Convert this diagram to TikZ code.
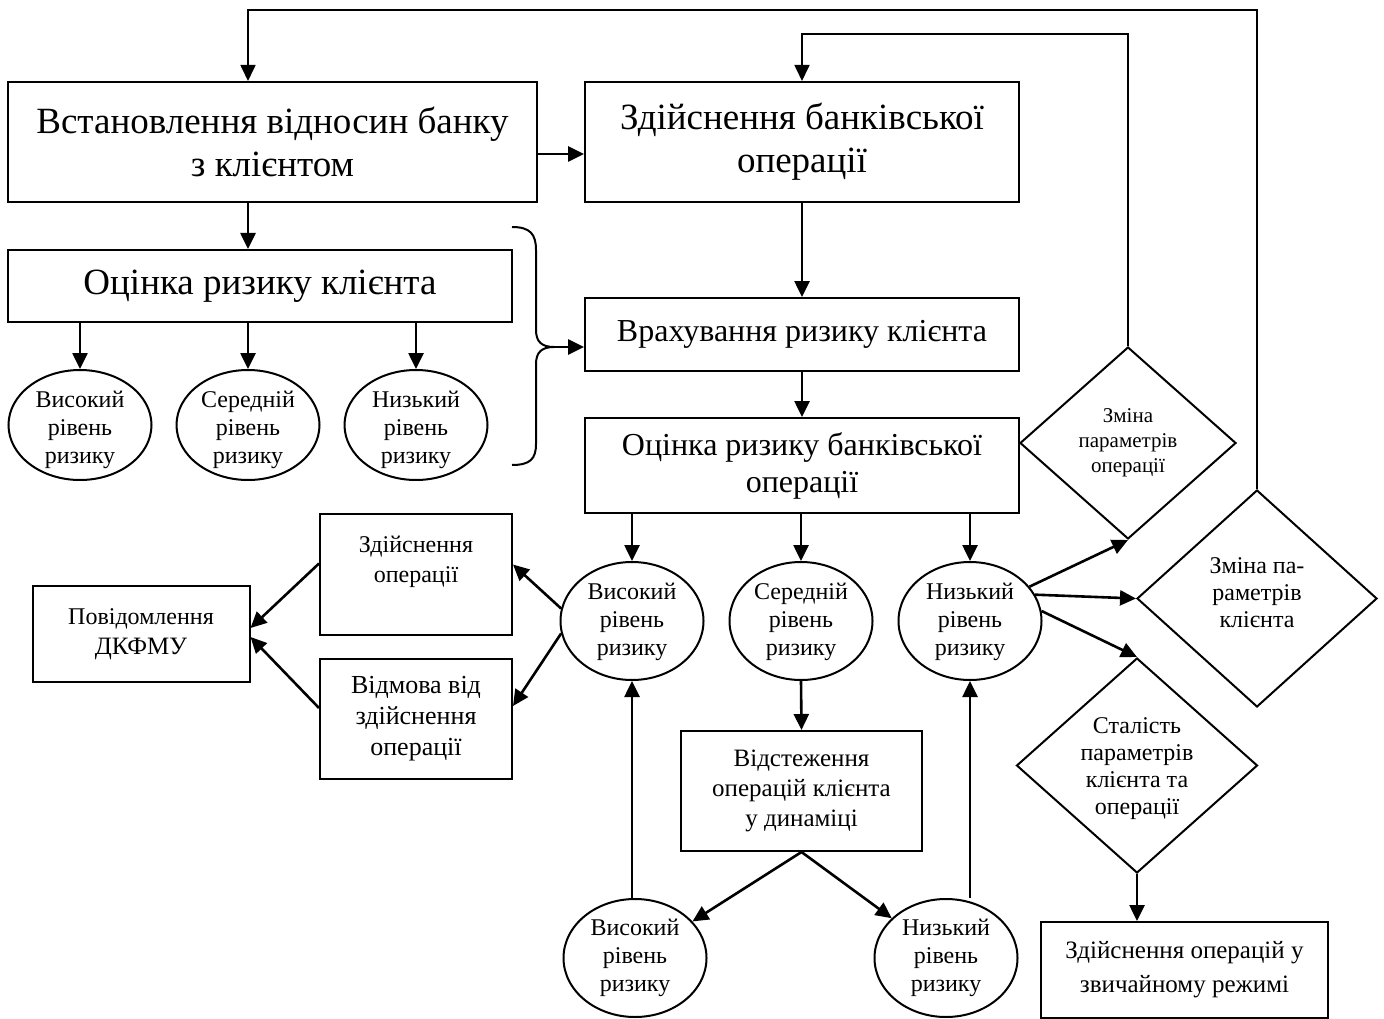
\documentclass[tikz,border=0pt]{standalone}
\usepackage{fontspec}
\setmainfont{Liberation Serif}
\usetikzlibrary{shapes.geometric,arrows.meta,calc}

\begin{document}
\begin{tikzpicture}[x=1pt,y=-1pt,
  box/.style={draw,line width=2pt,rectangle,inner sep=0pt,align=center},
  oval/.style={draw,line width=2pt,ellipse,inner sep=0pt},
  rhomb/.style={draw,line width=2pt,diamond,inner sep=0pt},
  inner/.style={align=center,inner sep=0pt},
  arr/.style={line width=2.6pt,-{Triangle[length=16pt,width=15pt]}},
  backarr/.style={line width=1.7pt,-{Triangle[length=16pt,width=15pt]}},
  txtbig/.style={font=\fontsize{37}{43}\selectfont},
  txtmid/.style={font=\fontsize{32}{37}\selectfont},
  txtsmall/.style={font=\fontsize{24}{30}\selectfont},
  txtoval/.style={font=\fontsize{24}{28}\selectfont},
  txtrhomb/.style={font=\fontsize{24}{27}\selectfont},
]
\useasboundingbox (0,0) rectangle (1384,1019);

% upper blocks
\node[box,txtbig,minimum width=529pt,minimum height=120pt] (A) at (272.5,142)
  {Встановлення відносин банку\\з клієнтом};
\node[box,txtbig,minimum width=434pt,minimum height=120pt] (B) at (802,142)
  {Здійснення банківської\\операції};
\node[box,txtbig,minimum width=504pt,minimum height=72pt] (C) at (260,286)
  {Оцінка ризику клієнта};
\node[box,txtmid,minimum width=434pt,minimum height=73pt] (D) at (802,334.5)
  {Врахування ризику клієнта};
\node[box,txtmid,minimum width=434pt,minimum height=95pt] (E) at (802,465.5)
  {Оцінка ризику банківської\\операції};

% client risk levels
\foreach \n/\x/\t in {c1/80/Високий, c2/248/Середній, c3/416/Низький}
  \node[oval,minimum width=143pt,minimum height=110pt,
    label={[inner,txtoval,yshift=-5pt]center:{\t\\рівень\\ризику}}] (\n) at (\x,425) {};

% operation risk levels
\foreach \n/\x/\t in {mH/632/Високий, mM/801/Середній, mL/970/Низький}
  \node[oval,minimum width=143pt,minimum height=118pt,
    label={[inner,txtoval,yshift=-1pt]center:{\t\\рівень\\ризику}}] (\n) at (\x,621) {};

% actions for high risk
\node[box,txtsmall,minimum width=192pt,minimum height=121pt] (zd) at (416,574.5)
  {Здійснення\\операції\\\mbox{}};
\node[box,font=\fontsize{26}{31}\selectfont,minimum width=192pt,minimum height=120pt] (vid) at (416,719)
  {Відмова від\\здійснення\\операції};
\node[box,txtsmall,minimum width=217pt,minimum height=96pt] (pov) at (141,634)
  {Повідомлення\\{\fontsize{25}{31}\selectfont ДКФМУ}};

% monitoring
\node[box,font=\fontsize{25}{30}\selectfont,minimum width=241pt,minimum height=120pt] (trk) at (801.5,791)
  {Відстеження\\операцій клієнта\\у динаміці};
\node[oval,minimum width=143pt,minimum height=118pt,
  label={[inner,txtoval]center:{Високий\\рівень\\ризику}}] (bH) at (635,958) {};
\node[oval,minimum width=143pt,minimum height=118pt,
  label={[inner,txtoval]center:{Низький\\рівень\\ризику}}] (bL) at (946,958) {};

% decisions
\node[rhomb,minimum width=216pt,minimum height=192pt,
  label={[inner,font=\fontsize{21}{25}\selectfont]center:{Зміна\\параметрів\\операції}}] (dOp) at (1128,443) {};
\node[rhomb,minimum width=240pt,minimum height=217pt,
  label={[inner,txtrhomb,yshift=6pt]center:{Зміна па-\\раметрів\\клієнта}}] (dCl) at (1257,598.5) {};
\node[rhomb,minimum width=241pt,minimum height=215pt,
  label={[inner,txtrhomb,yshift=-3pt]center:{Сталість\\параметрів\\клієнта та\\операції}}] (st) at (1137,765.5) {};
\node[box,font=\fontsize{25}{34}\selectfont,minimum width=287pt,minimum height=96pt] (norm) at (1184.5,970)
  {Здійснення операцій у\\звичайному режимі};

% feedback loops
\coordinate (outL) at (248,10);
\coordinate (inL) at (802,34);
\draw[backarr] (dCl.north) |- (outL) -- (outL |- A.north);
\draw[backarr] (dOp.north) |- (inL) -- (B.north);

% main flow
\draw[arr] ([yshift=-12pt]A.east) -- ([yshift=-12pt]A.east -| B.west);
\draw[arr] (A.south -| outL) -- (C.north -| outL);
\foreach \c in {c1,c2,c3} \draw[arr] (C.south -| \c) -- (\c.north);
\draw[arr] (B.south) -- (D.north);
\draw[arr] (D.south) -- (E.north);

% brace collecting client risk levels
\coordinate (brtip) at (554,347);
\draw[line width=2pt] (512,227) .. controls (530,227) and (536,234) .. (536,250)
  -- (536,330) .. controls (536,342) and (542,347) .. (brtip)
  .. controls (542,347) and (536,352) .. (536,364)
  -- (536,444) .. controls (536,459) and (530,465) .. (512,465);
\draw[arr] (brtip) -- (brtip -| D.west);

% operation risk levels
\foreach \c in {mH,mM,mL} \draw[arr] (E.south -| \c) -- (\c.north);
\draw[arr] (mH.170) -- ([yshift=10pt]zd.east);
\draw[arr] (mH.190) -- ([yshift=13pt]vid.east);
\draw[arr] ([yshift=11pt]zd.west) -- ([yshift=6pt]pov.east);
\draw[arr] ([yshift=11pt]vid.west) -- ([yshift=-3pt]pov.east);

\draw[arr] (mM.south) -- (trk.north);
\draw[arr] (trk.south) -- (bH);
\draw[arr] (trk.south) -- (bL);
\draw[arr] (bH.north -| mH) -- (mH.south);
\draw[arr] (mL |- bL.north) -- (mL.south);

\draw[arr] (mL.30) -- (dOp.south);
\draw[arr] (mL.22) -- (dCl.west);
\draw[arr] (mL.8) -- (st.north);
\draw[arr] (st.south) -- (st.south |- norm.north);
\end{tikzpicture}
\end{document}
